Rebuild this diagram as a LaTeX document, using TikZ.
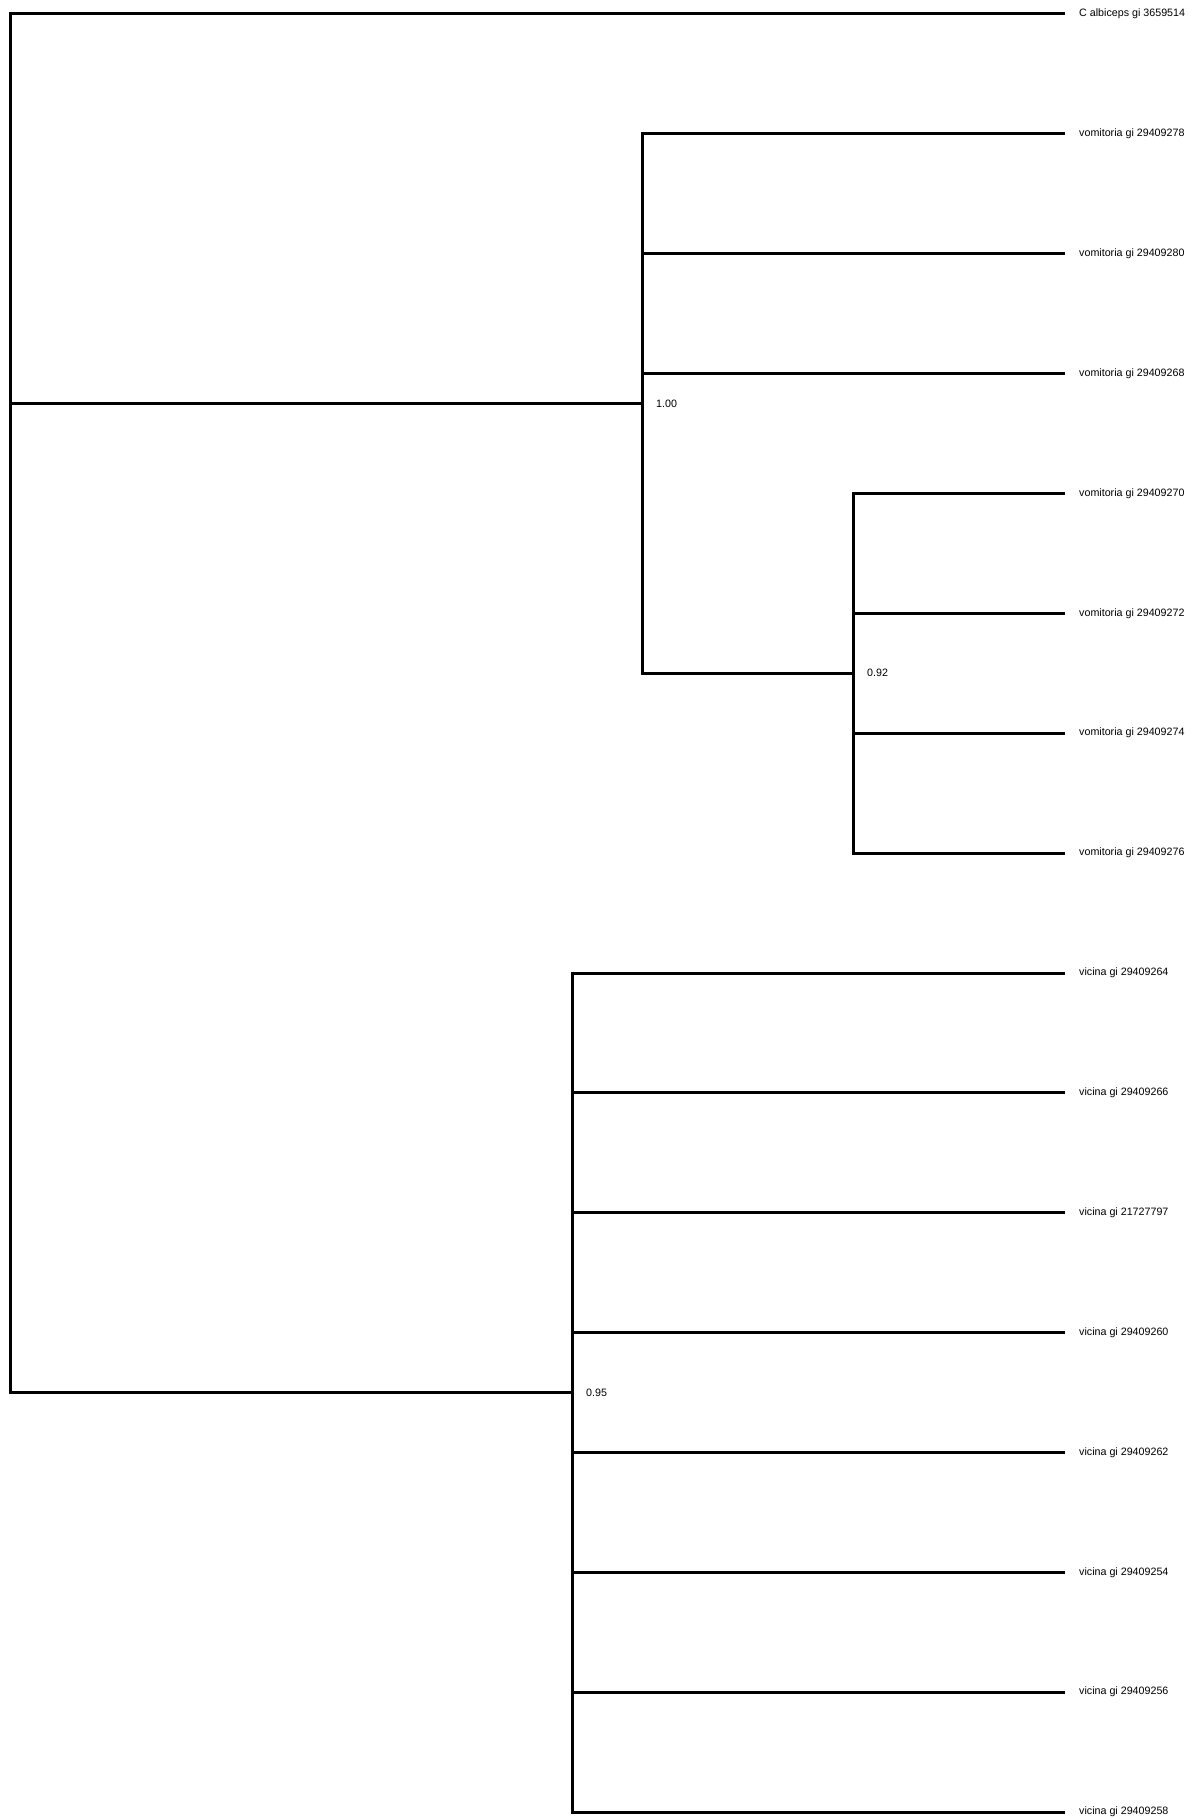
\documentclass[tikz,border=0pt]{standalone}
\usepackage{fontspec}
\setmainfont{Liberation Sans}
\usepackage{tikz}
\usetikzlibrary{positioning,calc}
\tikzset{
  branch/.style={line width=3pt, line join=miter, draw=black},
  leaf/.style={anchor=west, inner xsep=14pt, inner ysep=0pt, font=\fontsize{10.7}{13}\selectfont},
  supp/.style={anchor=west, inner sep=0pt, font=\fontsize{10.7}{13}\selectfont},
}

\begin{document}
\begin{tikzpicture}[x=1pt, y=-1pt]
  \useasboundingbox (0,0) rectangle (1195,1819);
  % leaves
  \node[leaf] (l1)  at (1065,14.0)   {C albiceps gi 3659514};
  \node[leaf] (l2)  at (1065,133.9)  {vomitoria gi 29409278};
  \node[leaf] (l3)  at (1065,253.7)  {vomitoria gi 29409280};
  \node[leaf] (l4)  at (1065,373.6)  {vomitoria gi 29409268};
  \node[leaf] (l5)  at (1065,493.5)  {vomitoria gi 29409270};
  \node[leaf] (l6)  at (1065,613.4)  {vomitoria gi 29409272};
  \node[leaf] (l7)  at (1065,733.2)  {vomitoria gi 29409274};
  \node[leaf] (l8)  at (1065,853.1)  {vomitoria gi 29409276};
  \node[leaf] (l9)  at (1065,973.0)  {vicina gi 29409264};
  \node[leaf] (l10) at (1065,1092.8) {vicina gi 29409266};
  \node[leaf] (l11) at (1065,1212.7) {vicina gi 21727797};
  \node[leaf] (l12) at (1065,1332.6) {vicina gi 29409260};
  \node[leaf] (l13) at (1065,1452.4) {vicina gi 29409262};
  \node[leaf] (l14) at (1065,1572.3) {vicina gi 29409254};
  \node[leaf] (l15) at (1065,1692.2) {vicina gi 29409256};
  \node[leaf] (l16) at (1065,1812.0) {vicina gi 29409258};
  % internal nodes
  \coordinate (sub) at (853,673.3);
  \coordinate (vom) at (642,403.6);
  \coordinate (vic) at (572,1392.5);
  \coordinate (root) at (10,403.6);
  \node[supp, right=14pt of sub] (bsub) {0.92};
  \node[supp, right=14pt of vom] (bvom) {1.00};
  \node[supp, right=14pt of vic] (bvic) {0.95};
  % branches
  \draw[branch] (root) |- (l1.west);
  \draw[branch] (root) |- (vom);
  \draw[branch] (root) |- (vic);
  \draw[branch] (vom) |- (l2.west);
  \draw[branch] (vom) |- (l3.west);
  \draw[branch] (vom) |- (l4.west);
  \draw[branch] (vom) |- (sub);
  \draw[branch] (sub) |- (l5.west);
  \draw[branch] (sub) |- (l6.west);
  \draw[branch] (sub) |- (l7.west);
  \draw[branch] (sub) |- (l8.west);
  \draw[branch] (vic) |- (l9.west);
  \draw[branch] (vic) |- (l10.west);
  \draw[branch] (vic) |- (l11.west);
  \draw[branch] (vic) |- (l12.west);
  \draw[branch] (vic) |- (l13.west);
  \draw[branch] (vic) |- (l14.west);
  \draw[branch] (vic) |- (l15.west);
  \draw[branch] (vic) |- (l16.west);
\end{tikzpicture}
\end{document}
